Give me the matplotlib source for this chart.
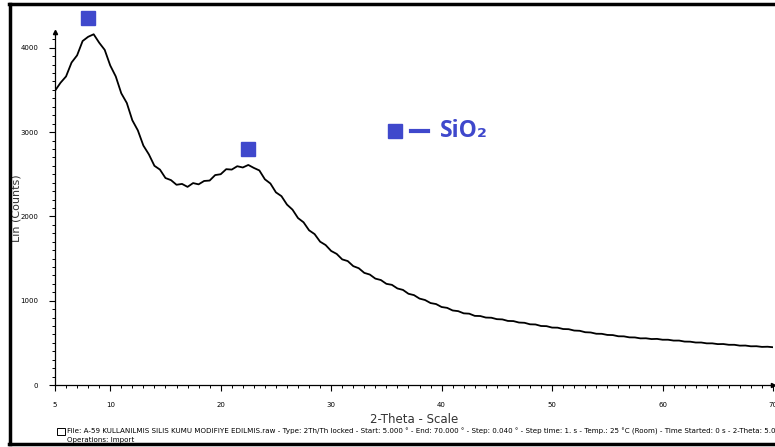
import numpy as np
import matplotlib
matplotlib.use("Agg")
import matplotlib.pyplot as plt
from matplotlib.lines import Line2D
from matplotlib.patches import Rectangle

# 2-theta from 5 to 70 in 0.5 deg steps, counts
two_theta = [5.0 + 0.5 * i for i in range(131)]
counts = [
    3490, 3585, 3660, 3825, 3910, 4080, 4130, 4160, 4060, 3975,
    3790, 3660, 3460, 3345, 3140, 3020, 2840, 2735, 2600, 2555,
    2455, 2430, 2375, 2385, 2350, 2395, 2380, 2420, 2425, 2490,
    2500, 2560, 2555, 2595, 2580, 2610, 2575, 2545, 2440, 2390,
    2285, 2240, 2140, 2080, 1980, 1930, 1835, 1790, 1700, 1660,
    1590, 1555, 1490, 1470, 1410, 1385, 1330, 1310, 1262, 1245,
    1200, 1188, 1145, 1128, 1082, 1066, 1025, 1008, 972, 960,
    925, 915, 884, 876, 850, 846, 820, 818, 800, 798,
    781, 778, 760, 758, 741, 738, 720, 718, 700, 698,
    681, 680, 664, 662, 646, 643, 626, 623, 608, 607,
    594, 592, 578, 577, 565, 564, 553, 554, 545, 547,
    537, 537, 527, 527, 515, 514, 504, 504, 494, 494,
    485, 486, 477, 477, 467, 468, 459, 460, 452, 454,
    448,
]

# SiO2 peak markers
peak_x = [8.0, 22.5]
peak_y = [4350, 2800]

x_ticks = [5, 10, 20, 30, 40, 50, 60, 70]
y_ticks = [0, 1000, 2000, 3000, 4000]

blue = "#3F48CC"

fig = plt.figure(figsize=(7.75, 4.47), dpi=100)
W, H = 775, 447
ax = fig.add_axes([55 / W, (H - 385) / H, (773 - 55) / W, (385 - 32) / H])

ax.plot(two_theta, counts, color="black", lw=1.3)
ax.plot(peak_x, peak_y, "s", color=blue, markersize=10.5, clip_on=False)

ax.set_xlim(5, 70)
ax.set_ylim(0, 4187)
ax.spines["top"].set_visible(False)
ax.spines["right"].set_visible(False)
ax.spines["left"].set_linewidth(0.9)
ax.spines["bottom"].set_linewidth(0.9)

ax.set_xticks(x_ticks)
ax.set_xticks(np.arange(5, 71, 1), minor=True)
ax.set_yticks(y_ticks)
ax.set_yticks(np.arange(0, 4200, 100), minor=True)
ax.tick_params(axis="both", which="major", length=4, width=0.8, labelsize=5)
ax.tick_params(axis="both", which="minor", length=2.5, width=0.7)
ax.tick_params(axis="x", which="major", pad=8)
ax.tick_params(axis="y", which="major", pad=8)

# axis arrows
ax.plot(1, 0, ">k", transform=ax.transAxes, markersize=3, clip_on=False)
ax.plot(0, 1, "^k", transform=ax.transAxes, markersize=3, clip_on=False)

ax.set_xlabel("2-Theta - Scale", fontsize=8.5, color="#333333", labelpad=4)
ax.set_ylabel("Lin (Counts)", fontsize=8, color="#333333")
ax.yaxis.set_label_coords((21 - 55) / 718, 0.5)

# legend drawn by hand
ax.plot([0.474], [0.72], "s", color=blue, markersize=9.5, transform=ax.transAxes, clip_on=False)
ax.add_line(Line2D([0.496, 0.519], [0.72, 0.72], color=blue, lw=3, transform=ax.transAxes))
ax.text(0.536, 0.72, "SiO₂", transform=ax.transAxes, color=blue, fontsize=16.5,
        fontweight="bold", family=["Open Sans", "DejaVu Sans"], va="center", ha="left")

# footer
fig.text(67 / W, 1 - 431 / H,
         "File: A-59 KULLANILMIS SILIS KUMU MODIFIYE EDILMIS.raw - Type: 2Th/Th locked - Start: 5.000 ° - "
         "End: 70.000 ° - Step: 0.040 ° - Step time: 1. s - Temp.: 25 °C (Room) - Time Started: 0 s - 2-Theta: 5.000 °",
         fontsize=5.1, va="center", ha="left")
fig.text(67 / W, 1 - 440 / H, "Operations: Import", fontsize=5.1, va="center", ha="left")
fig.patches.append(Rectangle((57 / W, 1 - 435 / H), 8 / W, 7 / H, transform=fig.transFigure,
                             fill=False, lw=0.7, edgecolor="black"))

# outer black frame
for xs, ys in [([9 / W, 1.0], [1 - 4 / H, 1 - 4 / H]),
               ([10 / W, 10 / W], [1 - 4 / H, 1 - 444 / H]),
               ([9 / W, 1.0], [1 - 444 / H, 1 - 444 / H])]:
    fig.lines.append(Line2D(xs, ys, color="black", lw=2.5, transform=fig.transFigure))

fig.savefig("out.png", dpi=100)
